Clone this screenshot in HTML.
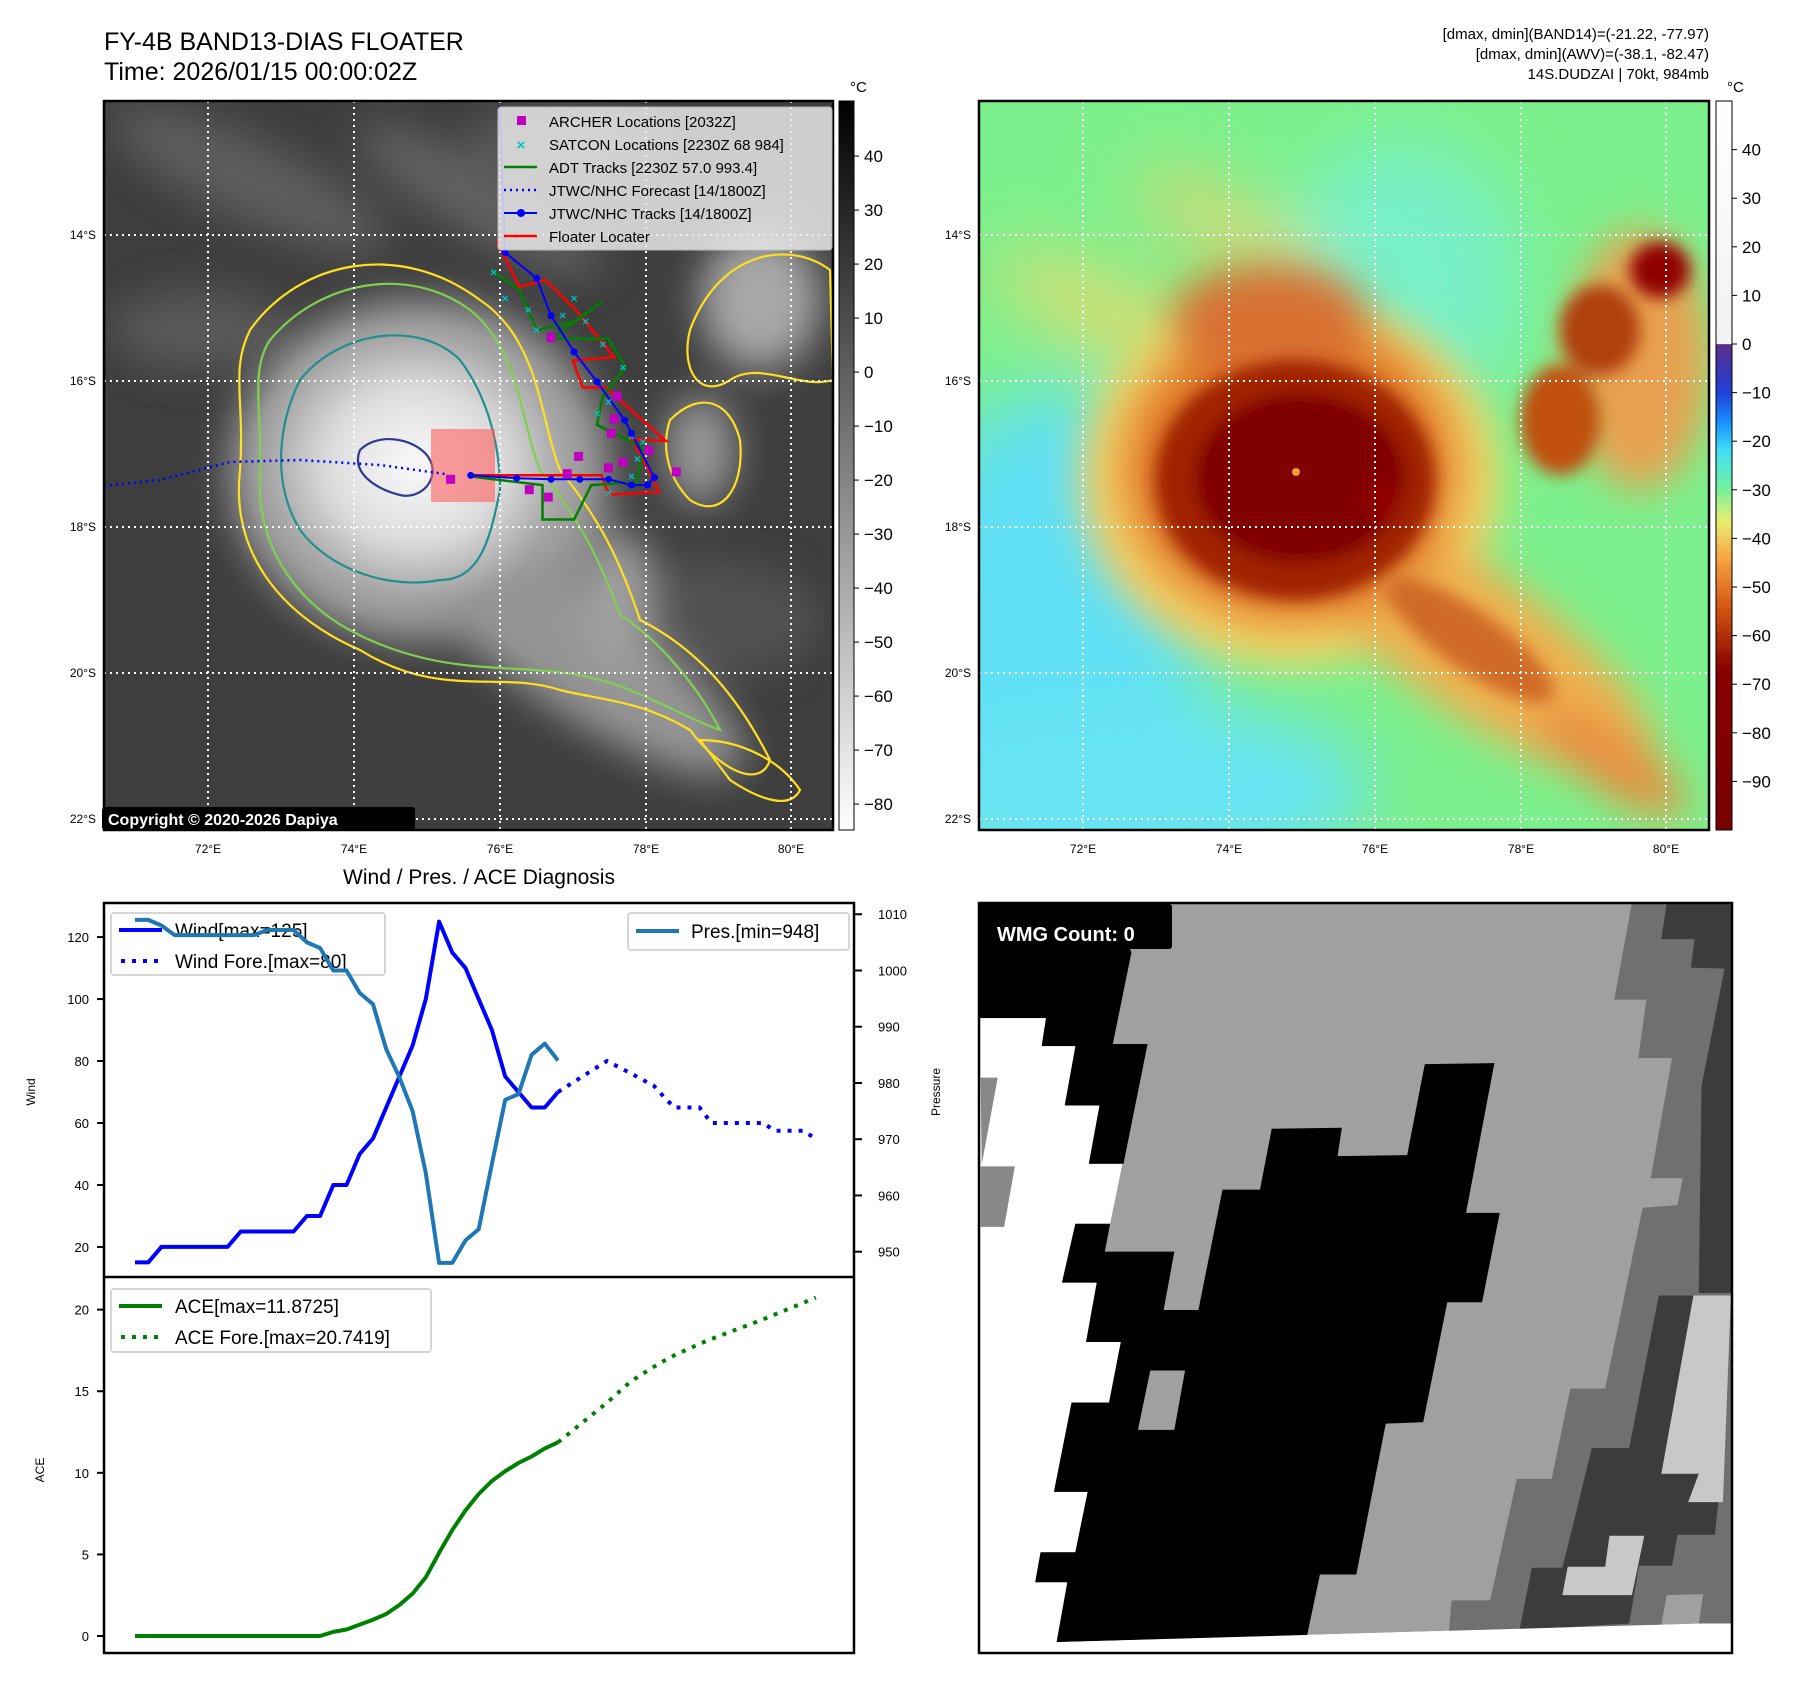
<!DOCTYPE html>
<html><head><meta charset="utf-8"><style>
html,body{margin:0;padding:0;background:#fff;}
svg{display:block;font-family:"Liberation Sans","DejaVu Sans",sans-serif;}
</style></head><body>
<svg id="root" width="1797" height="1690" viewBox="0 0 1797 1690" xmlns="http://www.w3.org/2000/svg">
<defs>
<filter id="b8" x="-50%" y="-50%" width="200%" height="200%"><feGaussianBlur stdDeviation="8"/></filter>
<filter id="b20" x="-50%" y="-50%" width="200%" height="200%"><feGaussianBlur stdDeviation="20"/></filter>
<filter id="b35" x="-50%" y="-50%" width="200%" height="200%"><feGaussianBlur stdDeviation="35"/></filter>
<clipPath id="clipL"><rect x="104" y="101" width="729" height="729"/></clipPath>
<clipPath id="clipR"><rect x="979" y="101" width="730" height="729"/></clipPath>
<radialGradient id="core" cx="0.5" cy="0.5" r="0.5"><stop offset="0" stop-color="#fafafa"/><stop offset="0.55" stop-color="#dcdcdc"/><stop offset="1" stop-color="#9a9a9a"/></radialGradient>
<linearGradient id="cbL" x1="0" y1="0" x2="0" y2="1"><stop offset="0" stop-color="#000"/><stop offset="1" stop-color="#fff"/></linearGradient>
<linearGradient id="cbR" x1="0" y1="0" x2="0" y2="1">
<stop offset="0" stop-color="#ffffff"/><stop offset="0.333" stop-color="#f2f2f2"/><stop offset="0.334" stop-color="#5a2d8c"/>
<stop offset="0.4" stop-color="#2040d8"/><stop offset="0.44" stop-color="#1890ff"/><stop offset="0.48" stop-color="#40e0f8"/>
<stop offset="0.53" stop-color="#70f0a0"/><stop offset="0.575" stop-color="#e8f070"/><stop offset="0.63" stop-color="#f8a040"/>
<stop offset="0.7" stop-color="#d05010"/><stop offset="0.78" stop-color="#880000"/><stop offset="1" stop-color="#7a0000"/></linearGradient>
</defs>

<text x="104" y="50" font-size="25">FY-4B BAND13-DIAS FLOATER</text>
<text x="104" y="80" font-size="25">Time: 2026/01/15 00:00:02Z</text>
<g font-size="15" text-anchor="end">
<text x="1709" y="39">[dmax, dmin](BAND14)=(-21.22, -77.97)</text>
<text x="1709" y="59">[dmax, dmin](AWV)=(-38.1, -82.47)</text>
<text x="1709" y="79">14S.DUDZAI | 70kt, 984mb</text>
</g>

<g clip-path="url(#clipL)">
<rect x="104" y="101" width="729" height="729" fill="#3e3e3e"/>
<g filter="url(#b20)" opacity="0.7">
<ellipse cx="250" cy="180" rx="150" ry="40" fill="#6a6a6a" transform="rotate(25 250 180)"/>
<ellipse cx="480" cy="200" rx="140" ry="35" fill="#707070" transform="rotate(30 480 200)"/>
<ellipse cx="200" cy="330" rx="90" ry="40" fill="#656565"/>
<ellipse cx="700" cy="620" rx="120" ry="60" fill="#5a5a5a"/>
<ellipse cx="560" cy="140" rx="90" ry="30" fill="#6c6c6c"/>
</g>
<g filter="url(#b20)">
<ellipse cx="420" cy="470" rx="190" ry="170" fill="#a0a0a0"/>
<ellipse cx="560" cy="640" rx="220" ry="60" fill="#959595" transform="rotate(35 560 640)"/>
<ellipse cx="760" cy="300" rx="60" ry="70" fill="#a8a8a8"/>
<ellipse cx="700" cy="450" rx="35" ry="55" fill="#9a9a9a"/>
<ellipse cx="620" cy="600" rx="35" ry="70" fill="#a0a0a0"/>
</g>
<ellipse cx="415" cy="465" rx="160" ry="140" fill="url(#core)" filter="url(#b8)"/>
<g fill="none" stroke-width="2.2">
<path d="M250,330 C300,260 400,240 480,300 C540,340 540,420 560,470 C600,520 620,560 640,620 C700,650 740,700 770,760 C760,790 720,770 690,730 C640,700 600,700 560,690 C500,670 440,700 360,650 C290,620 230,560 240,470 C245,400 230,370 250,330 Z" stroke="#ffe020"/>
<path d="M270,340 C320,280 410,265 470,310 C520,350 520,420 540,470 C580,520 600,560 620,615 C660,640 700,690 720,730 C690,720 640,690 600,680 C530,660 460,680 370,640 C300,610 255,550 260,470 C262,410 250,370 270,340 Z" stroke="#80d050"/>
<path d="M300,380 C340,330 420,320 460,360 C490,400 500,450 500,490 C490,540 480,580 440,580 C390,590 330,570 300,530 C270,480 280,420 300,380 Z" stroke="#20908c"/>
<path d="M360,450 C380,430 420,440 430,460 C440,480 420,500 400,495 C380,490 350,475 360,450 Z" stroke="#303890"/>
<path d="M690,330 C720,250 790,240 830,270 L833,380 C800,390 760,360 730,380 C700,400 680,370 690,330 Z" stroke="#ffe020"/>
<path d="M670,420 C700,390 730,400 740,440 C745,490 720,520 690,500 C670,480 660,450 670,420 Z" stroke="#ffe020"/>
<path d="M700,740 C740,740 780,760 800,790 C790,810 760,800 730,780 Z" stroke="#ffe020"/>
</g>
<g stroke="#fff" stroke-width="2" stroke-dasharray="2 4" fill="none">
<line x1="208" y1="101" x2="208" y2="830"/><line x1="354" y1="101" x2="354" y2="830"/><line x1="500" y1="101" x2="500" y2="830"/><line x1="646" y1="101" x2="646" y2="830"/><line x1="791" y1="101" x2="791" y2="830"/>
<line x1="104" y1="235" x2="833" y2="235"/><line x1="104" y1="381" x2="833" y2="381"/><line x1="104" y1="527" x2="833" y2="527"/><line x1="104" y1="673" x2="833" y2="673"/><line x1="104" y1="819" x2="833" y2="819"/>
</g>
<rect x="431" y="429" width="64" height="73" fill="#ff6060" opacity="0.6"/>
<polyline points="104,486 160,480 230,462 300,460 380,465 445,474" fill="none" stroke="#0000ff" stroke-width="2.5" stroke-dasharray="2 4"/>
<polyline id="redTrack" fill="none" stroke="#ff0000" stroke-width="2.5"/>
<polyline id="greenTrack" fill="none" stroke="#008000" stroke-width="2.5"/>
<polyline id="blueTrack" fill="none" stroke="#0000ff" stroke-width="2"/>
<g id="trackMarks"></g>
</g>
<rect x="104" y="101" width="729" height="729" fill="none" stroke="#000" stroke-width="2.5"/>
<g>
<rect x="498" y="107" width="334" height="143" fill="#e8e8e8" opacity="0.85" stroke="#ccc" rx="3"/>
<g font-size="15">
<rect x="517" y="116" width="9" height="9" fill="#c000c0"/><text x="549" y="127">ARCHER Locations [2032Z]</text>
<text x="521" y="150" fill="#00c0c0" font-size="15" text-anchor="middle" font-weight="bold">×</text><text x="549" y="150">SATCON Locations [2230Z 68 984]</text>
<line x1="504" y1="167" x2="537" y2="167" stroke="#008000" stroke-width="2.5"/><text x="549" y="173">ADT Tracks [2230Z 57.0 993.4]</text>
<line x1="504" y1="190" x2="537" y2="190" stroke="#0000ff" stroke-width="2.5" stroke-dasharray="2 4"/><text x="549" y="196">JTWC/NHC Forecast [14/1800Z]</text>
<line x1="504" y1="213" x2="537" y2="213" stroke="#0000ff" stroke-width="2"/><circle cx="521" cy="213" r="4" fill="#0000ff"/><text x="549" y="219">JTWC/NHC Tracks [14/1800Z]</text>
<line x1="504" y1="236" x2="537" y2="236" stroke="#ff0000" stroke-width="2.5"/><text x="549" y="242">Floater Locater</text>
</g></g>
<g>
<rect x="102" y="807" width="313" height="23" rx="3" fill="#000"/>
<text x="108" y="825" font-size="16" font-weight="bold" fill="#fff">Copyright © 2020-2026 Dapiya</text>
</g>
<g font-size="12" text-anchor="end">
<text x="96" y="239">14°S</text><text x="96" y="385">16°S</text><text x="96" y="531">18°S</text><text x="96" y="677">20°S</text><text x="96" y="823">22°S</text>
</g>
<g font-size="12" text-anchor="middle">
<text x="208" y="853">72°E</text><text x="354" y="853">74°E</text><text x="500" y="853">76°E</text><text x="646" y="853">78°E</text><text x="791" y="853">80°E</text>
</g>
<g>
<rect x="839" y="101" width="15" height="729" fill="url(#cbL)" stroke="#000" stroke-width="1"/>
<text x="850" y="92" font-size="15">°C</text>
<g font-size="17" id="cbLTicks"></g>
</g>

<g clip-path="url(#clipR)">
<rect x="979" y="101" width="730" height="729" fill="#7cf08c"/>
<g filter="url(#b35)">
<ellipse cx="1050" cy="650" rx="150" ry="260" fill="#60e0f4"/>
<ellipse cx="1130" cy="790" rx="240" ry="90" fill="#66e4f4"/>
<ellipse cx="1400" cy="280" rx="120" ry="140" fill="#78f0c8"/>
<ellipse cx="1120" cy="320" rx="140" ry="30" fill="#f0d870" transform="rotate(25 1120 320)"/>
<ellipse cx="1230" cy="230" rx="110" ry="25" fill="#f0d070" transform="rotate(30 1230 230)"/>
</g>
<g filter="url(#b20)">
<ellipse cx="1290" cy="480" rx="210" ry="185" fill="#f8d060"/>
<ellipse cx="1470" cy="640" rx="220" ry="70" fill="#f0b050" transform="rotate(35 1470 640)"/>
<ellipse cx="1610" cy="760" rx="90" ry="30" fill="#e89040" transform="rotate(35 1610 760)"/>
<ellipse cx="1640" cy="360" rx="70" ry="130" fill="#e8a050"/>
<ellipse cx="1290" cy="470" rx="170" ry="155" fill="#e07828"/>
<ellipse cx="1270" cy="320" rx="100" ry="55" fill="#d87030"/>
</g>
<g filter="url(#b8)">
<ellipse cx="1295" cy="480" rx="140" ry="120" fill="#a02000"/>
<ellipse cx="1300" cy="478" rx="105" ry="85" fill="#800000"/>
<ellipse cx="1600" cy="330" rx="40" ry="45" fill="#b04010"/>
<ellipse cx="1660" cy="270" rx="30" ry="28" fill="#900000"/>
<ellipse cx="1560" cy="420" rx="40" ry="55" fill="#c05010"/>
<ellipse cx="1380" cy="500" rx="18" ry="22" fill="#900000"/>
<ellipse cx="1470" cy="640" rx="100" ry="30" fill="#d06a28" transform="rotate(35 1470 640)"/>
</g>
<circle cx="1296" cy="472" r="4" fill="#f0a030"/>
<g stroke="#fff" stroke-width="2" stroke-dasharray="2 4" fill="none">
<line x1="1083" y1="101" x2="1083" y2="830"/><line x1="1229" y1="101" x2="1229" y2="830"/><line x1="1375" y1="101" x2="1375" y2="830"/><line x1="1521" y1="101" x2="1521" y2="830"/><line x1="1666" y1="101" x2="1666" y2="830"/>
<line x1="979" y1="235" x2="1709" y2="235"/><line x1="979" y1="381" x2="1709" y2="381"/><line x1="979" y1="527" x2="1709" y2="527"/><line x1="979" y1="673" x2="1709" y2="673"/><line x1="979" y1="819" x2="1709" y2="819"/>
</g>
</g>
<rect x="979" y="101" width="730" height="729" fill="none" stroke="#000" stroke-width="2.5"/>
<g font-size="12" text-anchor="end">
<text x="971" y="239">14°S</text><text x="971" y="385">16°S</text><text x="971" y="531">18°S</text><text x="971" y="677">20°S</text><text x="971" y="823">22°S</text>
</g>
<g font-size="12" text-anchor="middle">
<text x="1083" y="853">72°E</text><text x="1229" y="853">74°E</text><text x="1375" y="853">76°E</text><text x="1521" y="853">78°E</text><text x="1666" y="853">80°E</text>
</g>
<g>
<rect x="1716" y="101" width="16" height="729" fill="url(#cbR)" stroke="#000" stroke-width="1"/>
<text x="1727" y="92" font-size="15">°C</text>
<g font-size="17" id="cbRTicks"></g>
</g>

<text x="479" y="884" font-size="21" text-anchor="middle">Wind / Pres. / ACE Diagnosis</text>
<g id="chart"></g>
<rect x="104" y="903" width="750" height="750" fill="none" stroke="#000" stroke-width="2.5"/>
<line x1="104" y1="1277" x2="854" y2="1277" stroke="#000" stroke-width="2.5"/>
<text transform="translate(35 1092) rotate(-90)" font-size="12" text-anchor="middle">Wind</text>
<text transform="translate(940 1092) rotate(-90)" font-size="12" text-anchor="middle">Pressure</text>
<text transform="translate(44 1470) rotate(-90)" font-size="12" text-anchor="middle">ACE</text>
<g>
<rect x="111" y="913" width="274" height="62" rx="3" fill="#fff" opacity="0.8" stroke="#ccc" stroke-width="2"/>
<line x1="119" y1="930" x2="162" y2="930" stroke="#0000ff" stroke-width="4"/>
<line x1="121" y1="961" x2="162" y2="961" stroke="#0000ff" stroke-width="4" stroke-dasharray="4 7"/>
<text x="175" y="937" font-size="19">Wind[max=125]</text>
<text x="175" y="968" font-size="19">Wind Fore.[max=80]</text>
</g>
<g>
<rect x="628" y="913" width="221" height="37" rx="3" fill="#fff" opacity="0.8" stroke="#ccc" stroke-width="2"/>
<line x1="636" y1="931" x2="679" y2="931" stroke="#1f77b4" stroke-width="4"/>
<text x="691" y="938" font-size="19">Pres.[min=948]</text>
</g>
<g>
<rect x="111" y="1289" width="320" height="63" rx="3" fill="#fff" opacity="0.8" stroke="#ccc" stroke-width="2"/>
<line x1="119" y1="1306" x2="162" y2="1306" stroke="#008000" stroke-width="4"/>
<line x1="121" y1="1337" x2="162" y2="1337" stroke="#008000" stroke-width="4" stroke-dasharray="4 7"/>
<text x="175" y="1313" font-size="19">ACE[max=11.8725]</text>
<text x="175" y="1344" font-size="19">ACE Fore.[max=20.7419]</text>
</g>
<g id="chartTop"></g>

<g>
<svg x="979" y="903" width="753" height="750" viewBox="35 45 1407 1452" preserveAspectRatio="none">
<rect x="35" y="45" width="1407" height="1452" fill="#fff"/>
<polygon points="35,45 1442,45 1442,1440 1380,1440 180,1476 35,1476" fill="#a0a0a0"/>
<polygon points="35,45 272,45 320,140 285,318 350,318 305,550 240,550 260,437 195,437 215,322 152,322 160,268 35,268" fill="#000"/>
<polygon points="35,268 160,268 152,322 215,322 195,437 260,437 240,550 303,550 280,666 215,666 190,780 255,780 235,895 300,895 278,1012 208,1012 175,1185 238,1185 215,1302 150,1302 140,1360 200,1360 180,1476 35,1497" fill="#fff"/>
<polygon points="38,383 70,383 40,552" fill="#888"/>
<polygon points="38,555 102,555 82,672 38,672" fill="#888"/>
<polygon points="215,666 280,666 270,720 400,720 380,833 445,833 490,600 560,600 582,482 713,480 705,535 835,533 868,357 998,355 945,645 1008,645 975,818 910,818 865,1050 795,1053 740,1345 672,1345 648,1463 180,1476 200,1360 140,1360 150,1302 215,1302 238,1185 175,1185 208,1012 278,1012 300,895 235,895 255,780 190,780" fill="#000"/>
<polygon points="355,950 420,950 400,1065 332,1065" fill="#a0a0a0"/>
<polygon points="1255,45 1442,45 1442,1440 913,1455 918,1395 990,1395 1040,1160 1105,1160 1140,985 1205,985 1275,635 1340,630 1350,578 1290,578 1330,345 1267,345 1282,232 1222,232" fill="#707070"/>
<polygon points="1320,45 1442,45 1442,800 1380,800 1385,400 1428,172 1365,170 1372,115 1310,115" fill="#3c3c3c"/>
<polygon points="1305,805 1370,805 1310,1150 1422,1150 1410,1268 1340,1268 1330,1328 1268,1328 1250,1440 1045,1452 1068,1332 1125,1332 1140,1270 1180,1100 1250,1100" fill="#3c3c3c"/>
<polygon points="1370,805 1440,805 1425,1205 1360,1205 1380,1150 1310,1150" fill="#c8c8c8"/>
<polygon points="1213,1270 1278,1270 1255,1385 1125,1385 1135,1330 1205,1330" fill="#c8c8c8"/>
<polygon points="1320,1385 1388,1383 1380,1440 1310,1442" fill="#a0a0a0"/>
<polygon points="1380,1440 1442,1440 1442,1497 35,1497 35,1476 180,1476" fill="#fff"/>
</svg>
<rect x="979" y="903" width="753" height="750" fill="none" stroke="#000" stroke-width="2.5"/>
<rect x="979" y="904" width="193" height="45" rx="3" fill="#000"/>
<text x="997" y="941" font-size="20" font-weight="bold" fill="#fff">WMG Count: 0</text>
</g>
</svg>
<script>
const histIdx = [0,1,2,3,4,5,6,7,8,9,10,11,12,13,14,15,16,17,18,19,20,21,22,23,24,25,26,27,28,29,30,31,32];
const windVals = [15,15,20,20,20,20,20,20,25,25,25,25,25,30,30,40,40,50,55,65,75,85,100,125,115,110,100,90,75,70,65,65,70];
const presVals = [1009,1009,1008,1006.3,1006.3,1006.3,1006.3,1006.3,1006.3,1006.3,1007.2,1007.2,1007.2,1005,1004,1000,1000,996,994,986,981,975,964,948,948,952,954,965.6,977,978,985,987,984];
const aceVals = [0,0,0,0,0,0,0,0,0,0,0,0,0,0,0,0.25,0.4,0.7,1.0,1.35,1.9,2.6,3.6,5.1,6.5,7.7,8.7,9.5,10.1,10.6,11.0,11.5,11.87];
const foreIdx = [32,35.7,37.5,39.25,40.1,40.8,42.7,43.6,47.5,48.4,50.5,51.5];
const foreWind = [70,80,76,72,68,65,65,60,60,57.5,57.5,55];
const foreAce = [11.87,14.3,15.6,16.5,16.9,17.2,17.9,18.2,19.4,19.7,20.4,20.74];
const windTicks = [20,40,60,80,100,120];
const presTicks = [950,960,970,980,990,1000,1010];
const aceTicks = [0,5,10,15,20];
const irCbTicks = [40,30,20,10,0,-10,-20,-30,-40,-50,-60,-70,-80];
const awvCbTicks = [40,30,20,10,0,-10,-20,-30,-40,-50,-60,-70,-80,-90];

const NS='http://www.w3.org/2000/svg';
function xS(i){return 135 + (i)*13.22;}
function yWind(v){return 903 + (131 - v)/(131-10.3)*374;}
function yPres(v){return 903 + (1012 - v)/(1012-945.5)*374;}
function yAce(v){return 1277 + (22.0 - v)/(22.0+1.04)*376;}
function mk(tag,attrs,parent){const e=document.createElementNS(NS,tag);for(const k in attrs)e.setAttribute(k,attrs[k]);parent.appendChild(e);return e;}
function pts(xs,ys,fy){return xs.map((x,i)=>xS(x).toFixed(1)+','+fy(ys[i]).toFixed(1)).join(' ');}
const chart=document.getElementById('chart');
const chartTop=document.getElementById('chartTop');
let e;
e=mk('polyline',{points:pts(histIdx,windVals,yWind),fill:'none',stroke:'#0000ff','stroke-width':4,'stroke-linejoin':'round'},chart);


e=mk('polyline',{points:pts(foreIdx,foreWind,yWind),fill:'none',stroke:'#0000ff','stroke-width':4,'stroke-dasharray':'4 7'},chart);


e=mk('polyline',{points:pts(histIdx,presVals,yPres),fill:'none',stroke:'#1f77b4','stroke-width':4,'stroke-linejoin':'round'},chartTop);


e=mk('polyline',{points:pts(histIdx,aceVals,yAce),fill:'none',stroke:'#008000','stroke-width':4,'stroke-linejoin':'round'},chart);


e=mk('polyline',{points:pts(foreIdx,foreAce,yAce),fill:'none',stroke:'#008000','stroke-width':4,'stroke-dasharray':'4 7'},chart);


windTicks.forEach(v=>{const y=yWind(v);mk('line',{x1:97,y1:y,x2:104,y2:y,stroke:'#000','stroke-width':2},chart);
 const t=mk('text',{x:89,y:y+5,'font-size':13,'text-anchor':'end'},chart);t.textContent=v;
 
 });
presTicks.forEach(v=>{const y=yPres(v);mk('line',{x1:854,y1:y,x2:862,y2:y,stroke:'#000','stroke-width':2},chart);
 const t=mk('text',{x:878,y:y+5,'font-size':13},chart);t.textContent=v;
 
 });
aceTicks.forEach(v=>{const y=yAce(v);mk('line',{x1:97,y1:y,x2:104,y2:y,stroke:'#000','stroke-width':2},chart);
 const t=mk('text',{x:89,y:y+5,'font-size':13,'text-anchor':'end'},chart);t.textContent=v;
 
 });
function yCbL(v){return 101 + (50.2 - v)/(50.2+84.8)*729;}
function yCbR(v){return 101 + (50 - v)/(150)*729;}
const gL=document.getElementById('cbLTicks');
irCbTicks.forEach(v=>{const y=yCbL(v);mk('line',{x1:854,y1:y,x2:859,y2:y,stroke:'#000'},gL);
 const t=mk('text',{x:864,y:y+6},gL);t.textContent=(v<0?'\u2212'+(-v):v);
 
 });
const gR=document.getElementById('cbRTicks');
awvCbTicks.forEach(v=>{const y=yCbR(v);mk('line',{x1:1732,y1:y,x2:1737,y2:y,stroke:'#000'},gR);
 const t=mk('text',{x:1742,y:y+6},gR);t.textContent=(v<0?'\u2212'+(-v):v);
 
 });
const redPts=[[865,420],[905,500],[950,488],[1003,540],[1070,622],[998,628],[1015,675],[1055,675],[1160,768],[1100,765],[1128,815],[1148,857],[1060,862],[1048,828],[820,828]];
const bluePts=[[870,185],[880,440],[935,485],[960,550],[1000,613],[1040,665],[1088,732],[1100,755],[1140,832],[1128,845],[1100,845],[1060,835],[1010,835],[960,835],[900,833],[820,828]];
const greenPts=[[855,470],[905,505],[935,575],[1000,560],[1050,525],[960,590],[1060,590],[1090,640],[1050,690],[1040,740],[1120,780],[1110,840],[1030,845],[1000,905],[945,905],[945,845],[820,830]];
const archerPts=[[960,588],[1075,690],[1065,755],[1008,795],[1060,815],[1085,805],[1130,785],[1178,822],[988,825],[922,853],[955,866],[785,835],[1070,730]];
const satconPts=[[860,475],[880,520],[920,540],[935,575],[980,550],[1020,560],[1050,600],[1085,640],[1060,700],[1100,760],[1110,800],[1100,830],[1060,860],[1040,720],[1120,770],[1000,520]];
const S=1/1.742;
function tp(a){return a.map(p=>(p[0]*S).toFixed(1)+','+(p[1]*S).toFixed(1)).join(' ');}
document.getElementById('redTrack').setAttribute('points',tp(redPts));
document.getElementById('blueTrack').setAttribute('points',tp(bluePts));
document.getElementById('greenTrack').setAttribute('points',tp(greenPts));
const tm=document.getElementById('trackMarks');
satconPts.forEach(p=>{const t=mk('text',{x:p[0]*S,y:p[1]*S+4,'font-size':12,'text-anchor':'middle',fill:'#00c0c0','font-weight':'bold'},tm);t.textContent='×';
 
 });
archerPts.forEach(p=>{const r=mk('rect',{x:p[0]*S-4.5,y:p[1]*S-4.5,width:9,height:9,fill:'#c000c0'},tm);
 
 });
bluePts.slice(1).forEach(p=>{const c=mk('circle',{cx:p[0]*S,cy:p[1]*S,r:3.5,fill:'#0000ff'},tm);
 
 });
</script>
</body></html>
